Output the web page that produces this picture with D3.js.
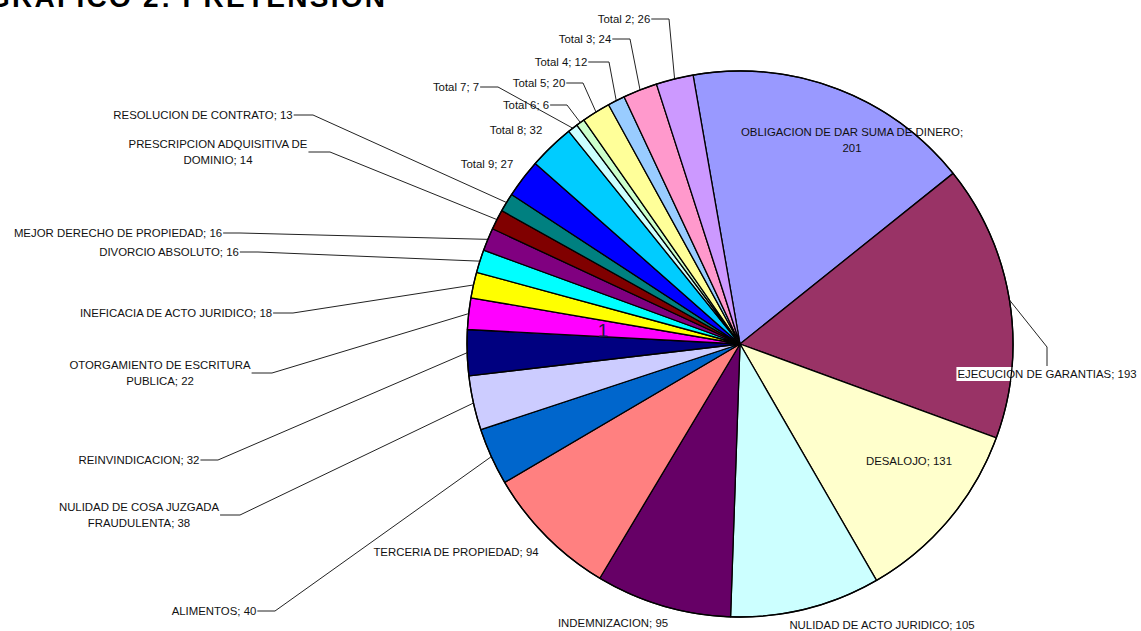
<!DOCTYPE html>
<html>
<head>
<meta charset="utf-8">
<script src="https://cdn.jsdelivr.net/npm/d3@7"></script>
<style>
  html, body { margin: 0; padding: 0; background: #fff; }
  svg { display: block; font-family: Arial, "Liberation Sans", sans-serif; }
</style>
</head>
<body>
<svg id="chart" width="1141" height="631"></svg>
<script>
// Slices, clockwise from the top
const categories = [
  "OBLIGACION DE DAR SUMA DE DINERO", "EJECUCION DE GARANTIAS", "DESALOJO",
  "NULIDAD DE ACTO JURIDICO", "INDEMNIZACION", "TERCERIA DE PROPIEDAD",
  "ALIMENTOS", "NULIDAD DE COSA JUZGADA FRAUDULENTA", "REINVINDICACION",
  "OTORGAMIENTO DE ESCRITURA PUBLICA", "INEFICACIA DE ACTO JURIDICO",
  "DIVORCIO ABSOLUTO", "MEJOR DERECHO DE PROPIEDAD",
  "PRESCRIPCION ADQUISITIVA DE DOMINIO", "RESOLUCION DE CONTRATO",
  "Total 9", "Total 8", "Total 7", "Total 6", "Total 5", "Total 4", "Total 3", "Total 2"
];
const values = [201, 193, 131, 105, 95, 94, 40, 38, 32, 22, 18, 16, 16, 14, 13, 27, 32, 7, 6, 20, 12, 24, 26];

const colors = [
  "#9999FF", "#993366", "#FFFFCC", "#CCFFFF", "#660066", "#FF8080",
  "#0066CC", "#CCCCFF", "#000080", "#FF00FF", "#FFFF00", "#00FFFF",
  "#800080", "#800000", "#008080", "#0000FF", "#00CCFF", "#CCFFFF",
  "#CCFFCC", "#FFFF99", "#99CCFF", "#FF99CC", "#CC99FF"
];

// label placement: text centre, first line middle, words on first line, leader elbow
const labelLayout = [
  {x: 852, y: 132, br: 6},
  {x: 1047, y: 374, top: [1047, 347, 366], bg: true},
  {x: 909, y: 461},
  {x: 882, y: 625},
  {x: 613, y: 623},
  {x: 456, y: 552},
  {x: 214, y: 611, elbow: 275},
  {x: 139, y: 507, br: 4, elbow: 240},
  {x: 139, y: 460, elbow: 218},
  {x: 160, y: 365, br: 3, elbow: 272},
  {x: 176, y: 313, elbow: 293},
  {x: 169, y: 252, elbow: 258},
  {x: 118, y: 233, elbow: 240},
  {x: 218, y: 144, br: 3, elbow: 330},
  {x: 203, y: 115, elbow: 313},
  {x: 487, y: 164},
  {x: 516, y: 130},
  {x: 456, y: 87, elbow: 498},
  {x: 526, y: 105, elbow: 567},
  {x: 539, y: 83, elbow: 583},
  {x: 561, y: 62, elbow: 609},
  {x: 585, y: 39, elbow: 630},
  {x: 624, y: 19, elbow: 669}
];

const svg = d3.select("#chart");
const cx = 740, cy = 344, radius = 273;
const lineGap = 16;
const startAngle = -9.9 * Math.PI / 180;

// title, only the lower part shows at the top edge
svg.append("text")
  .attr("x", -12).attr("y", 6.5)
  .attr("textLength", 397).attr("lengthAdjust", "spacing")
  .style("font-size", "28px").style("font-weight", "bold")
  .text("GRAFICO 2: PRETENSION");

const data = categories.map((c, i) => ({name: c, value: values[i], color: colors[i], layout: labelLayout[i]}));

const pie = d3.pie().sort(null).value(d => d.value)
  .startAngle(startAngle).endAngle(startAngle + 2 * Math.PI);
const arc = d3.arc().innerRadius(0).outerRadius(radius);
const rim = d3.arc().innerRadius(radius).outerRadius(radius);

const arcs = pie(data);

const g = svg.append("g").attr("transform", `translate(${cx},${cy})`);

g.selectAll("path.slice")
  .data(arcs)
  .join("path")
  .attr("class", "slice")
  .attr("d", arc)
  .attr("fill", d => d.data.color)
  .attr("stroke", "#000")
  .attr("stroke-width", 1.3)
  .attr("stroke-linejoin", "round");

// stray mark inside the magenta slice
svg.append("text")
  .attr("x", 603).attr("y", 337)
  .attr("text-anchor", "middle")
  .style("font-size", "19px")
  .style("fill", "#1a1a40")
  .text("1");

const leaders = svg.append("g");
const labels = svg.append("g").style("font-size", "11.4px").style("fill", "#111");

arcs.forEach(a => {
  const L = a.data.layout;
  const full = `${a.data.name}; ${a.data.value}`;
  const words = full.split(" ");
  const lines = L.br ? [words.slice(0, L.br).join(" "), words.slice(L.br).join(" ")] : [full];

  const box = labels.append("g");
  const t = box.append("text")
    .attr("text-anchor", "middle")
    .attr("dominant-baseline", "central");
  lines.forEach((s, k) => {
    t.append("tspan").attr("x", L.x).attr("y", L.y + k * lineGap).text(s);
  });

  // white label background (only where Excel kept one)
  if (L.bg) {
    const bb = t.node().getBBox();
    box.insert("rect", "text")
      .attr("x", bb.x - 1).attr("y", bb.y - 1)
      .attr("width", bb.width + 2).attr("height", bb.height + 2)
      .attr("fill", "#fff");
  }

  const [ex, ey] = rim.centroid(a);
  const edgePt = [cx + ex, cy + ey];
  let pts = null;

  if (L.elbow) {
    const w = d3.max(t.selectAll("tspan").nodes(), n => n.getComputedTextLength());
    const midY = L.y + (lines.length - 1) * lineGap / 2;
    pts = [[L.x + w / 2 + 1, midY], [L.elbow, midY], edgePt];
  } else if (L.top) {
    pts = [edgePt, [L.top[0], L.top[1]], [L.top[0], L.top[2]]];
  }

  if (pts) {
    leaders.append("path")
      .attr("d", d3.line()(pts))
      .attr("fill", "none")
      .attr("stroke", "#222")
      .attr("stroke-width", 1);
  }
});

// pie outline stays on top of the label boxes
svg.append("circle")
  .attr("cx", cx).attr("cy", cy).attr("r", radius)
  .attr("fill", "none")
  .attr("stroke", "#000")
  .attr("stroke-width", 1.3);
</script>
</body>
</html>
